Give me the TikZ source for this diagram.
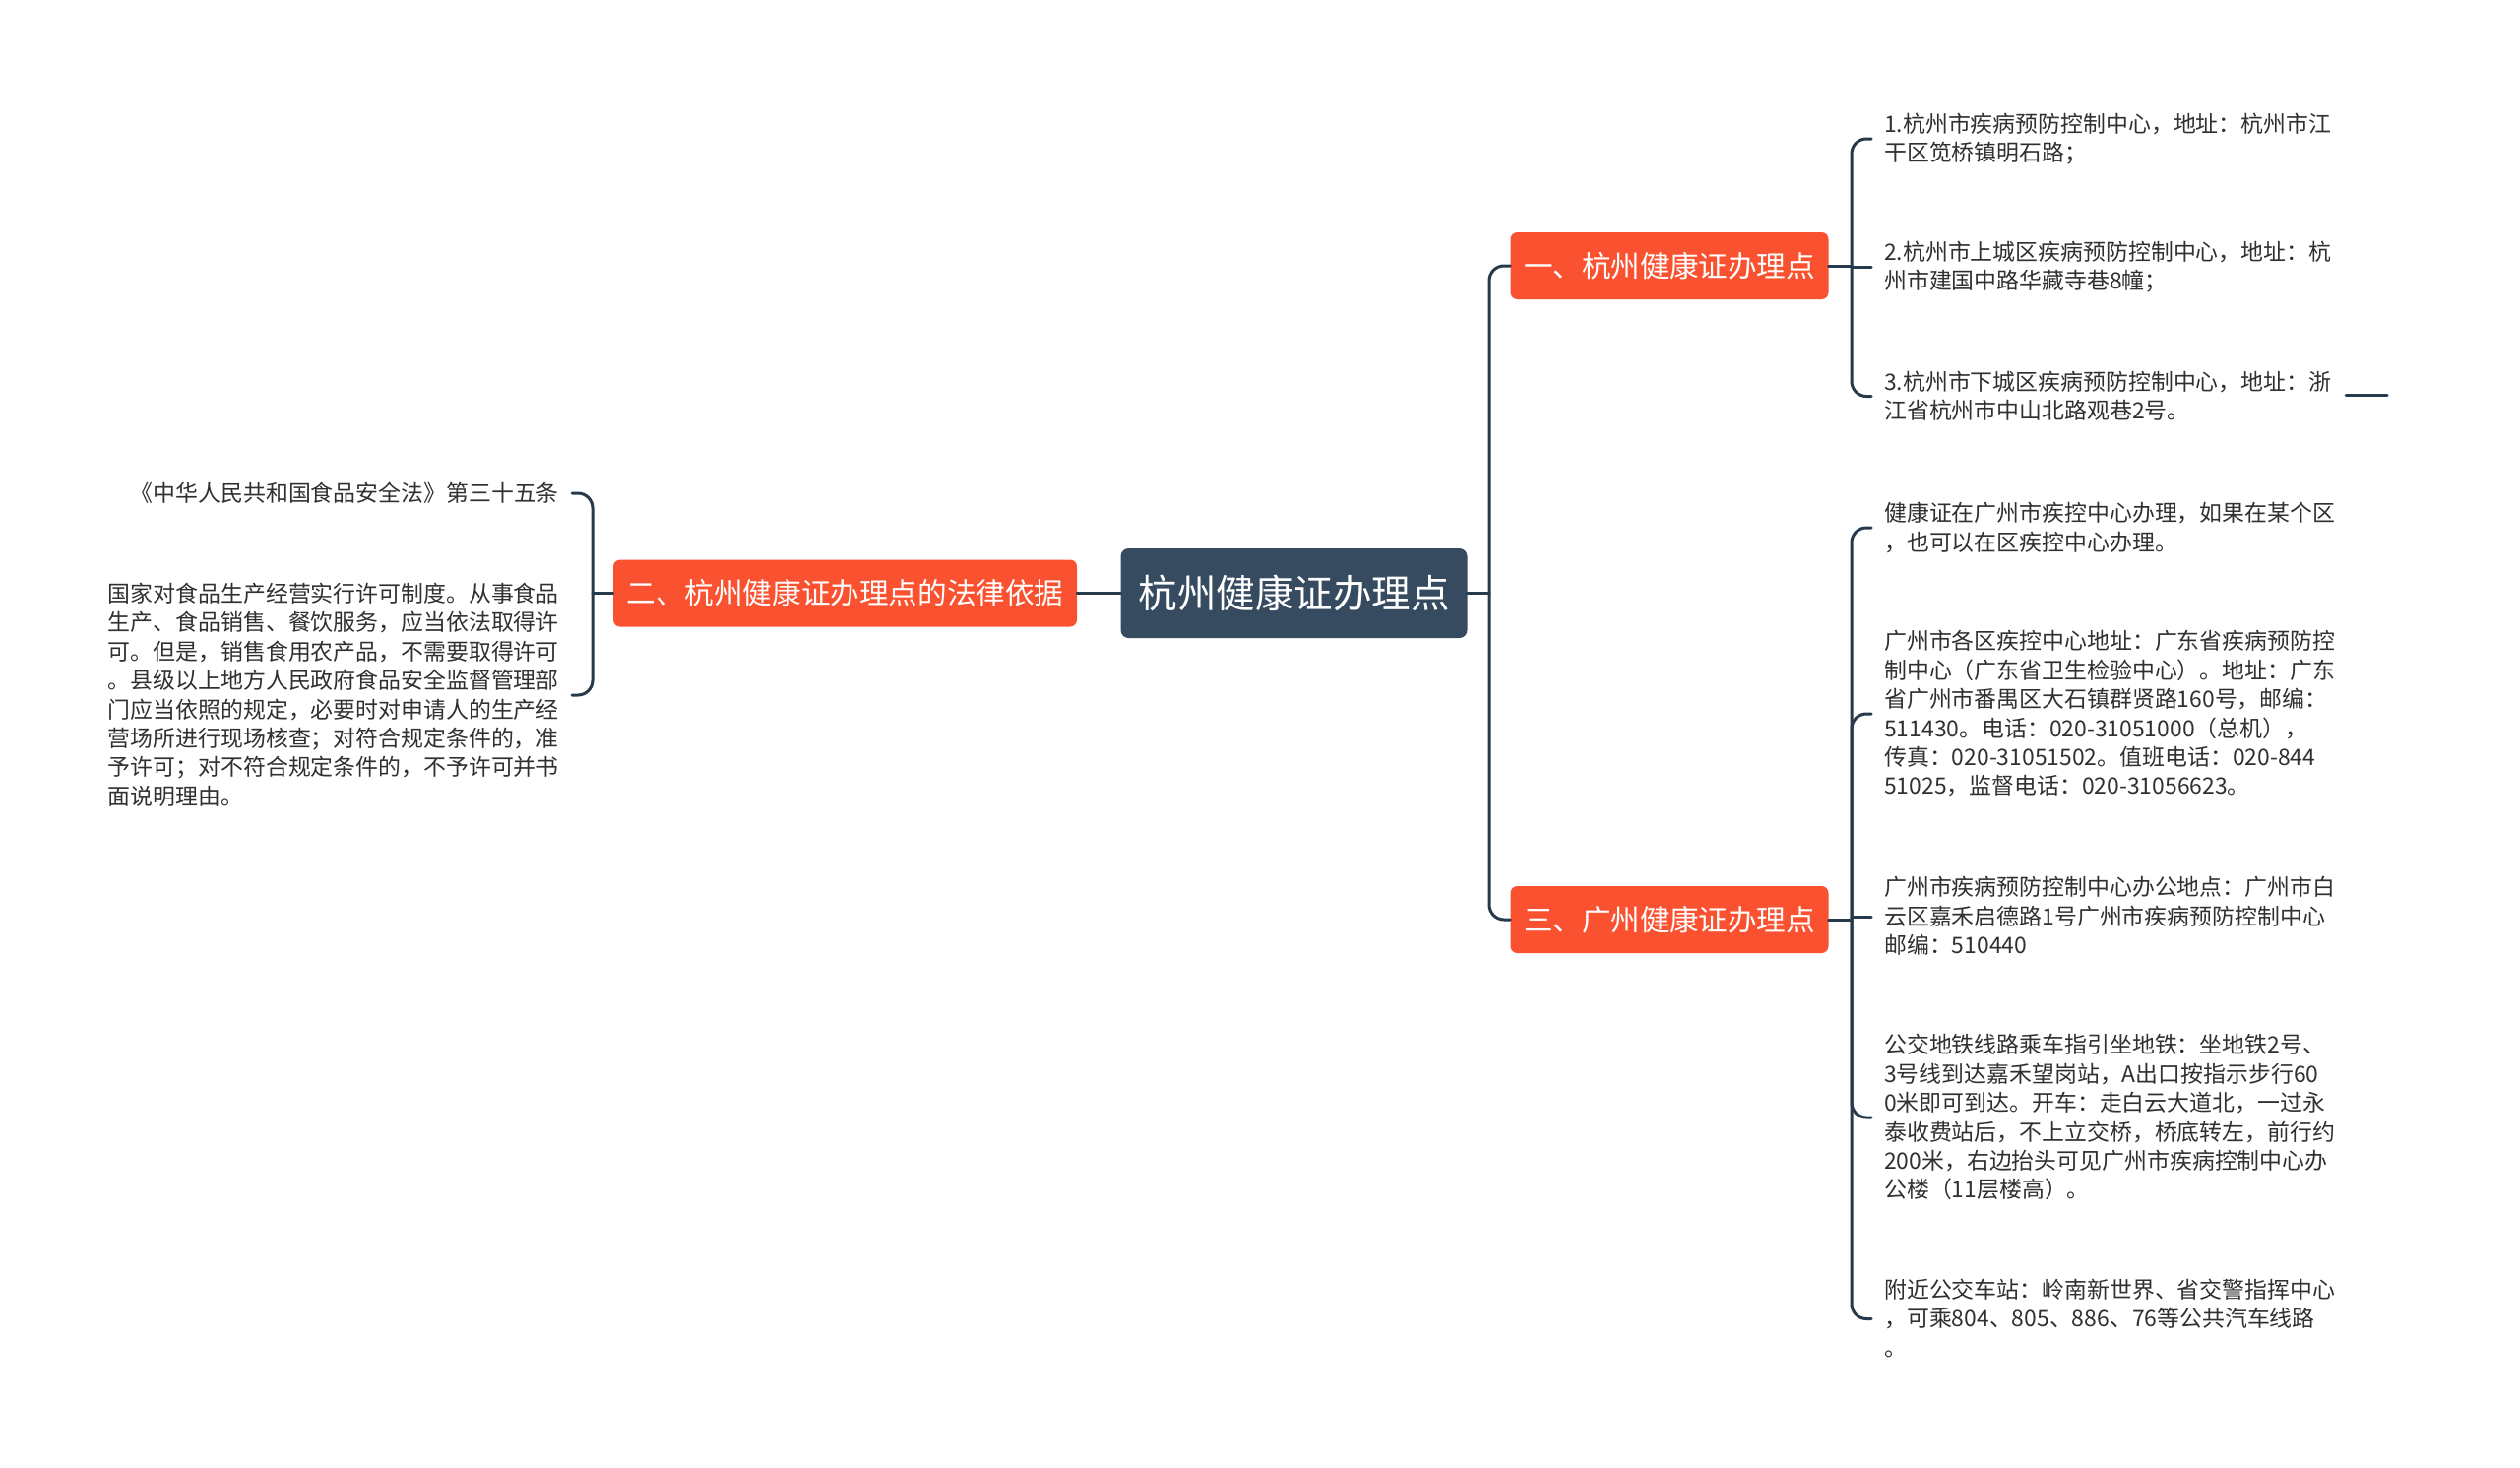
\documentclass[tikz,border=0pt]{standalone}
\usepackage{fontspec}
\setmainfont{Noto Sans CJK SC}
\usepackage{xcolor}
\usepackage{tikz}
\usetikzlibrary{calc}
\definecolor{slate}{HTML}{364B5F}
\definecolor{flame}{HTML}{FA5230}
\definecolor{wire}{HTML}{263A4C}
\definecolor{ink}{HTML}{303030}
\newcommand\lstrut{\rule[-0.12em]{0pt}{1em}}
\tikzset{
    every picture/.style={line cap=round,line join=round},
    rootnode/.style={fill=slate,text=white,rounded corners=8pt,inner xsep=18pt,
      minimum height=91pt,text height=34.8pt,text depth=4.7pt,
      font=\fontsize{39.5}{44}\selectfont},
    topicnode/.style={fill=flame,text=white,rounded corners=7pt,inner xsep=13.5pt,
      minimum height=68pt,text height=26pt,text depth=3.6pt,
      font=\fontsize{29.6}{34}\selectfont},
    leafnode/.style={text=ink,inner xsep=13pt,inner ysep=0pt,align=left,
      font=\fontsize{22.9}{29.4}\selectfont,
      execute at begin node=\lstrut,execute at end node=\lstrut},
    link/.style={draw=wire,line width=3pt,rounded corners=15pt}
}
\begin{document}
\begin{tikzpicture}[x=1pt,y=-1pt]
  \fill[white] (0,0) rectangle (2560,1491);
  \useasboundingbox (0,0) rectangle (2560,1491);
  % centre and main topics
  \node[rootnode] (root) at (1314.5,602.5) {杭州健康证办理点};
  \node[topicnode] (t1) at (1696,270) {一、杭州健康证办理点};
  \node[topicnode] (t2) at (858.5,602.5) {二、杭州健康证办理点的法律依据};
  \node[topicnode] (t3) at (1696,934) {三、广州健康证办理点};
  \coordinate (rj) at (1513,602.5);
  \coordinate (s1) at (1881,270);
  \coordinate (s2) at (602,602.5);
  \coordinate (s3) at (1881,934);
  % leaves of topic one
  \node[leafnode,anchor=west] (l1) at (1901,141) {1.杭州市疾病预防控制中心，地址：杭州市江\\干区笕桥镇明石路；};
  \node[leafnode,anchor=west] (l2) at (1901,271) {2.杭州市上城区疾病预防控制中心，地址：杭\\州市建国中路华藏寺巷8幢；};
  \node[leafnode,anchor=west] (l3) at (1901,402.5) {3.杭州市下城区疾病预防控制中心，地址：浙\\江省杭州市中山北路观巷2号。};
  % leaves of topic three
  \node[leafnode,anchor=west] (l4) at (1901,536) {健康证在广州市疾控中心办理，如果在某个区\\，也可以在区疾控中心办理。};
  \node[leafnode,anchor=west] (l5) at (1901,725) {广州市各区疾控中心地址：广东省疾病预防控\\制中心（广东省卫生检验中心）。地址：广东\\省广州市番禺区大石镇群贤路160号，邮编：\\511430。电话：020-31051000（总机），\\传真：020-31051502。值班电话：020-844\\51025，监督电话：020-31056623。};
  \node[leafnode,anchor=west] (l6) at (1901,931) {广州市疾病预防控制中心办公地点：广州市白\\云区嘉禾启德路1号广州市疾病预防控制中心\\邮编：510440};
  \node[leafnode,anchor=west] (l7) at (1901,1135) {公交地铁线路乘车指引坐地铁：坐地铁2号、\\3号线到达嘉禾望岗站，A出口按指示步行60\\0米即可到达。开车：走白云大道北，一过永\\泰收费站后，不上立交桥，桥底转左，前行约\\200米，右边抬头可见广州市疾病控制中心办\\公楼（11层楼高）。};
  \node[leafnode,anchor=west] (l8) at (1901,1339.5) {附近公交车站：岭南新世界、省交警指挥中心\\，可乘804、805、886、76等公共汽车线路\\。};
  % leaves of topic two
  \node[leafnode,anchor=east,align=right] (l9) at (581,501) {《中华人民共和国食品安全法》第三十五条};
  \node[leafnode,anchor=east] (l10) at (581,706) {国家对食品生产经营实行许可制度。从事食品\\生产、食品销售、餐饮服务，应当依法取得许\\可。但是，销售食用农产品，不需要取得许可\\。县级以上地方人民政府食品安全监督管理部\\门应当依照的规定，必要时对申请人的生产经\\营场所进行现场核查；对符合规定条件的，准\\予许可；对不符合规定条件的，不予许可并书\\面说明理由。};
  \coordinate (e1) at (2383,401);
  \coordinate (e2) at (2425,401);
  % connectors
  \draw[link] (root.east) -- (rj);
  \draw[link] (rj) |- (t1.west);
  \draw[link] (rj) |- (t3.west);
  \draw[link] (root.west) -- (t2.east);
  \draw[link] (t1.east) -- (s1);
  \foreach \l in {l1,l3}
    \draw[link] (s1) |- (\l.west);
  \draw[link] (s1 |- l2.west) -- (l2.west);
  \draw[link] (t3.east) -- (s3);
  \foreach \l in {l4,l5,l7,l8}
    \draw[link] (s3) |- (\l.west);
  \draw[link] (s3 |- l6.west) -- (l6.west);
  \draw[link] (t2.west) -- (s2);
  \foreach \l in {l9,l10}
    \draw[link] (s2) |- (\l.east);
  \draw[link] (e1) -- (e2);
\end{tikzpicture}
\end{document}
